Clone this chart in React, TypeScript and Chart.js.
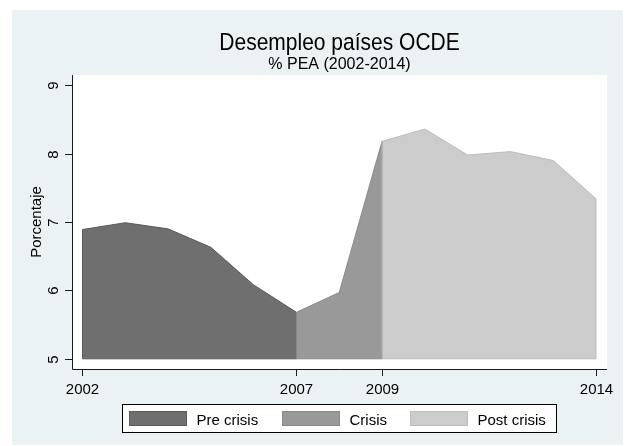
import React, { useEffect, useRef } from "react";
import { Chart, registerables } from "chart.js";

Chart.register(...registerables);

const preYears = [2002, 2003, 2004, 2005, 2006, 2007];
const preValues = [6.89, 6.99, 6.9, 6.63, 6.08, 5.68];
const crisisYears = [2007, 2008, 2009];
const crisisValues = [5.68, 5.97, 8.18];
const postYears = [2009, 2010, 2011, 2012, 2013, 2014];
const postValues = [8.18, 8.36, 7.98, 8.03, 7.9, 7.34];
const seriesLabels = ["Pre crisis", "Crisis", "Post crisis"];
const xTicks = [2002, 2007, 2009, 2014];
const yTicks = [5, 6, 7, 8, 9];
const baseValue = 5;
const titleText = "Desempleo países OCDE";
const subtitleText = "% PEA (2002-2014)";
const yTitleText = "Porcentaje";

const FONT = '"Liberation Sans", Arial, Helvetica, sans-serif';
const fills = ["#6F6F6F", "#999999", "#CCCCCC"];
const lines = ["#5A5A5A", "#8A8A8A", "#BDBDBD"];

const toPoints = (xs: number[], ys: number[]) => xs.map((x, i) => ({ x, y: ys[i] }));

const stataPlugin = {
  id: "stataLook",
  beforeDraw(chart: any) {
    const ctx = chart.ctx;
    const a = chart.chartArea;
    ctx.save();
    ctx.fillStyle = "#FFFFFF";
    ctx.fillRect(0, 0, chart.width, chart.height);
    ctx.fillStyle = "#EAF2F3";
    ctx.fillRect(12, 10, 611, 435);
    ctx.fillStyle = "#FFFFFF";
    ctx.fillRect(a.left, a.top, a.right - a.left, a.bottom - a.top);
    ctx.restore();
  },
  afterDatasetsDraw(chart: any) {
    const ctx = chart.ctx;
    const yScale = chart.scales.y;
    const yb = yScale.getPixelForValue(baseValue);
    ctx.save();
    chart.data.datasets.forEach((ds: any, i: number) => {
      const meta = chart.getDatasetMeta(i);
      const pts = meta.data;
      if (!pts.length) return;
      const first = pts[0];
      const last = pts[pts.length - 1];
      ctx.strokeStyle = ds.borderColor;
      ctx.lineWidth = 1;
      ctx.beginPath();
      ctx.moveTo(first.x, first.y);
      ctx.lineTo(first.x, yb);
      ctx.lineTo(last.x, yb);
      ctx.lineTo(last.x, last.y);
      ctx.stroke();
    });
    ctx.restore();
  },
  afterDraw(chart: any) {
    const ctx = chart.ctx;
    const a = chart.chartArea;
    const xs = chart.scales.x;
    const ys = chart.scales.y;
    ctx.save();
    // axes
    ctx.strokeStyle = "#1A1A1A";
    ctx.lineWidth = 1;
    ctx.beginPath();
    ctx.moveTo(a.left + 0.5, a.top);
    ctx.lineTo(a.left + 0.5, a.bottom + 0.5);
    ctx.lineTo(a.right, a.bottom + 0.5);
    ctx.stroke();
    // x ticks
    ctx.fillStyle = "#000000";
    ctx.font = `15px ${FONT}`;
    ctx.textAlign = "center";
    ctx.textBaseline = "alphabetic";
    xTicks.forEach((t) => {
      const px = Math.round(xs.getPixelForValue(t)) + 0.5;
      ctx.beginPath();
      ctx.moveTo(px, a.bottom);
      ctx.lineTo(px, a.bottom + 7);
      ctx.stroke();
      ctx.fillText(String(t), px, 393.5);
    });
    // y ticks
    yTicks.forEach((t) => {
      const py = Math.round(ys.getPixelForValue(t)) + 0.5;
      ctx.beginPath();
      ctx.moveTo(a.left - 7, py);
      ctx.lineTo(a.left, py);
      ctx.stroke();
      ctx.save();
      ctx.translate(58, py);
      ctx.rotate(-Math.PI / 2);
      ctx.fillText(String(t), 0, 0);
      ctx.restore();
    });
    // y title
    ctx.save();
    ctx.translate(41, (a.top + a.bottom) / 2);
    ctx.rotate(-Math.PI / 2);
    ctx.fillText(yTitleText, 0, 0);
    ctx.restore();
    // titles
    const cx = (a.left + a.right) / 2;
    ctx.save();
    ctx.translate(cx, 49.5);
    ctx.scale(1, 1.12);
    ctx.font = `21px ${FONT}`;
    ctx.fillText(titleText, 0, 0);
    ctx.restore();
    ctx.font = `16px ${FONT}`;
    ctx.fillText(subtitleText, cx, 68.5);
    // legend
    ctx.fillStyle = "#FFFFFF";
    ctx.fillRect(122, 404, 435, 29);
    ctx.strokeStyle = "#000000";
    ctx.strokeRect(122.5, 404.5, 434, 28);
    const swX = [129, 282, 410];
    ctx.font = `15px ${FONT}`;
    ctx.textAlign = "left";
    chart.data.datasets.forEach((ds: any, i: number) => {
      ctx.fillStyle = ds.backgroundColor;
      ctx.fillRect(swX[i], 411, 58, 15);
      ctx.strokeStyle = ds.borderColor;
      ctx.strokeRect(swX[i] + 0.5, 411.5, 57, 14);
      ctx.fillStyle = "#000000";
      ctx.fillText(ds.label, swX[i] + 67.5, 424.5);
    });
    ctx.restore();
  },
};

export default function App() {
  const ref = useRef<HTMLCanvasElement>(null);
  useEffect(() => {
    document.body.style.margin = "0";
    const canvas = ref.current;
    if (!canvas) return;
    const chart = new Chart(canvas, {
      type: "line",
      data: {
        datasets: [
          { label: seriesLabels[0], data: toPoints(preYears, preValues), backgroundColor: fills[0], borderColor: lines[0] },
          { label: seriesLabels[1], data: toPoints(crisisYears, crisisValues), backgroundColor: fills[1], borderColor: lines[1] },
          { label: seriesLabels[2], data: toPoints(postYears, postValues), backgroundColor: fills[2], borderColor: lines[2] },
        ].map((d) => ({
          ...d,
          fill: { value: baseValue },
          borderWidth: 1,
          pointRadius: 0,
          tension: 0,
        })),
      },
      options: {
        responsive: false,
        animation: false,
        devicePixelRatio: 1,
        layout: { padding: { left: 72, right: 22, top: 75, bottom: 77 } },
        plugins: { legend: { display: false }, title: { display: false }, tooltip: { enabled: false } },
        scales: {
          x: { type: "linear", display: false, min: 2001.755, max: 2014.257 },
          y: { type: "linear", display: false, min: 4.851, max: 9.15 },
        },
      },
      plugins: [stataPlugin],
    });
    return () => chart.destroy();
  }, []);
  return (
    <canvas ref={ref} width={629} height={446} style={{ display: "block", width: 629, height: 446 }} />
  );
}
